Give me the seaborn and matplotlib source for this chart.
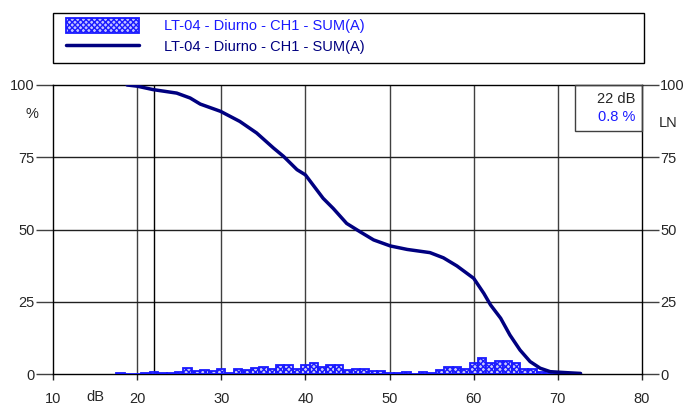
import matplotlib
matplotlib.use("Agg")
import matplotlib.pyplot as plt
from matplotlib.patches import Rectangle, Patch
from matplotlib.lines import Line2D
import seaborn as sns

# histogram: percentage of time per 1 dB class
levels = list(range(18, 73))
share = [0.35, 0.1, 0.1, 0.3, 0.7, 0.3, 0.5, 0.6, 2.1, 0.9,
         1.4, 1.0, 1.8, 0.5, 1.8, 1.5, 2.2, 2.4, 1.6, 3.0,
         3.2, 1.6, 3.0, 3.8, 2.5, 3.2, 3.2, 1.5, 1.6, 1.7,
         0.9, 1.1, 0.4, 0.3, 0.7, 0.1, 0.6, 0.3, 1.3, 2.4,
         2.4, 1.8, 3.8, 5.5, 3.8, 4.5, 4.6, 3.8, 1.8, 1.8,
         0.8, 0.6, 0.5, 0.3, 0.2]

# cumulative curve LN
curve_db = [18.8, 20.0, 21.9, 24.7, 26.3, 27.5, 29.9, 32.2, 34.2, 36.2,
            37.4, 39.0, 40.0, 42.1, 43.3, 44.9, 46.5, 48.1, 50.1, 52.1,
            54.8, 56.4, 58.0, 60.0, 61.2, 62.0, 63.2, 64.3, 65.5, 66.7,
            67.9, 69.1, 71.1, 72.7]
curve_pct = [100.0, 99.6, 98.4, 97.2, 95.5, 93.4, 90.9, 87.4, 83.4, 78.2,
             75.3, 70.7, 68.9, 60.8, 57.3, 52.1, 49.2, 46.4, 44.3, 43.1,
             42.0, 40.2, 37.4, 33.1, 27.9, 23.9, 19.3, 13.5, 8.3, 4.3,
             2.0, 0.8, 0.45, 0.2]

series_label = "LT-04 - Diurno - CH1 - SUM(A)"
cursor_db = 22
cursor_pct = "0.8 %"

sns.set_style("white")
plt.rcParams['font.family'] = ['Liberation Sans', 'DejaVu Sans']
plt.rcParams['hatch.linewidth'] = 1.0

fig = plt.figure(figsize=(6.99, 4.07), dpi=100)
W, H = 699, 407
ax = fig.add_axes([53 / W, 1 - 374 / H, 589 / W, 289 / H])

bar_blue = '#1a1aff'
bar_fill = '#c4c4ff'
line_navy = '#000080'

sns.barplot(x=levels, y=share, native_scale=True, width=1, ax=ax,
            color=bar_fill, edgecolor=bar_blue, linewidth=1.3,
            hatch='xxxxxx', zorder=3)
sns.lineplot(x=curve_db, y=curve_pct, color=line_navy, lw=2.5, ax=ax,
             zorder=4)

ax.set_xlim(10, 80)
ax.set_ylim(0, 100)
ax.set_xticks(range(10, 81, 10))
ax.set_yticks([0, 25, 50, 75, 100])
ax.set_xlabel("")
ax.set_ylabel("")

# grid
for v in range(20, 80, 10):
    ax.axvline(v, color='#404040', lw=1, zorder=1)
for v in (25, 50, 75):
    ax.axhline(v, color='#202020', lw=1, zorder=1)
ax.axvline(cursor_db, color='black', lw=1, zorder=2)

for s in ax.spines.values():
    s.set_color('black')
    s.set_linewidth(1)

ax.tick_params(axis='y', which='both', left=True, right=True,
               labelleft=True, labelright=True, length=12, width=1,
               pad=1, labelsize=10.5, color='#404040')
ax.tick_params(axis='x', bottom=True, length=4, width=1, pad=9,
               labelsize=10.5)

# axis annotations
ax.text(-0.036, 0.9, "%", transform=ax.transAxes, ha='center',
        va='center', fontsize=10.5)
ax.text(1.045, 0.87, "LN", transform=ax.transAxes, ha='center',
        va='center', fontsize=10.5)
ax.text(15, -0.08, "dB", transform=ax.get_xaxis_transform(), ha='center',
        va='center', fontsize=10.5)

# cursor info box
ax.add_patch(Rectangle((0.886, 0.841), 0.114, 0.159, transform=ax.transAxes,
                       fill=False, edgecolor='#404040', lw=1, zorder=5,
                       clip_on=False))
ax.text(0.988, 0.95, f"{cursor_db} dB", transform=ax.transAxes,
        ha='right', va='center', fontsize=10.5, zorder=6)
ax.text(0.988, 0.89, cursor_pct, transform=ax.transAxes,
        ha='right', va='center', fontsize=10.5, color=bar_blue, zorder=6)

# legend frame and legend
fig.patches.append(Rectangle((53 / W, 1 - 63 / H), 591 / W, 50 / H,
                             transform=fig.transFigure, fill=False,
                             edgecolor='black', lw=1))
handles = [Patch(facecolor=bar_fill, edgecolor=bar_blue, hatch='xxxxxx', lw=1.3),
           Line2D([0], [0], color=line_navy, lw=2.5)]
leg = fig.legend(handles, [series_label, series_label],
                 loc='upper left', bbox_to_anchor=(60 / W, 1 - 12 / H),
                 frameon=False, fontsize=10.5, handlelength=5,
                 handleheight=1.2, handletextpad=1.7, labelspacing=0.35,
                 borderaxespad=0)
leg.get_texts()[0].set_color(bar_blue)
leg.get_texts()[1].set_color(line_navy)

fig.savefig("out.png", dpi=100)
